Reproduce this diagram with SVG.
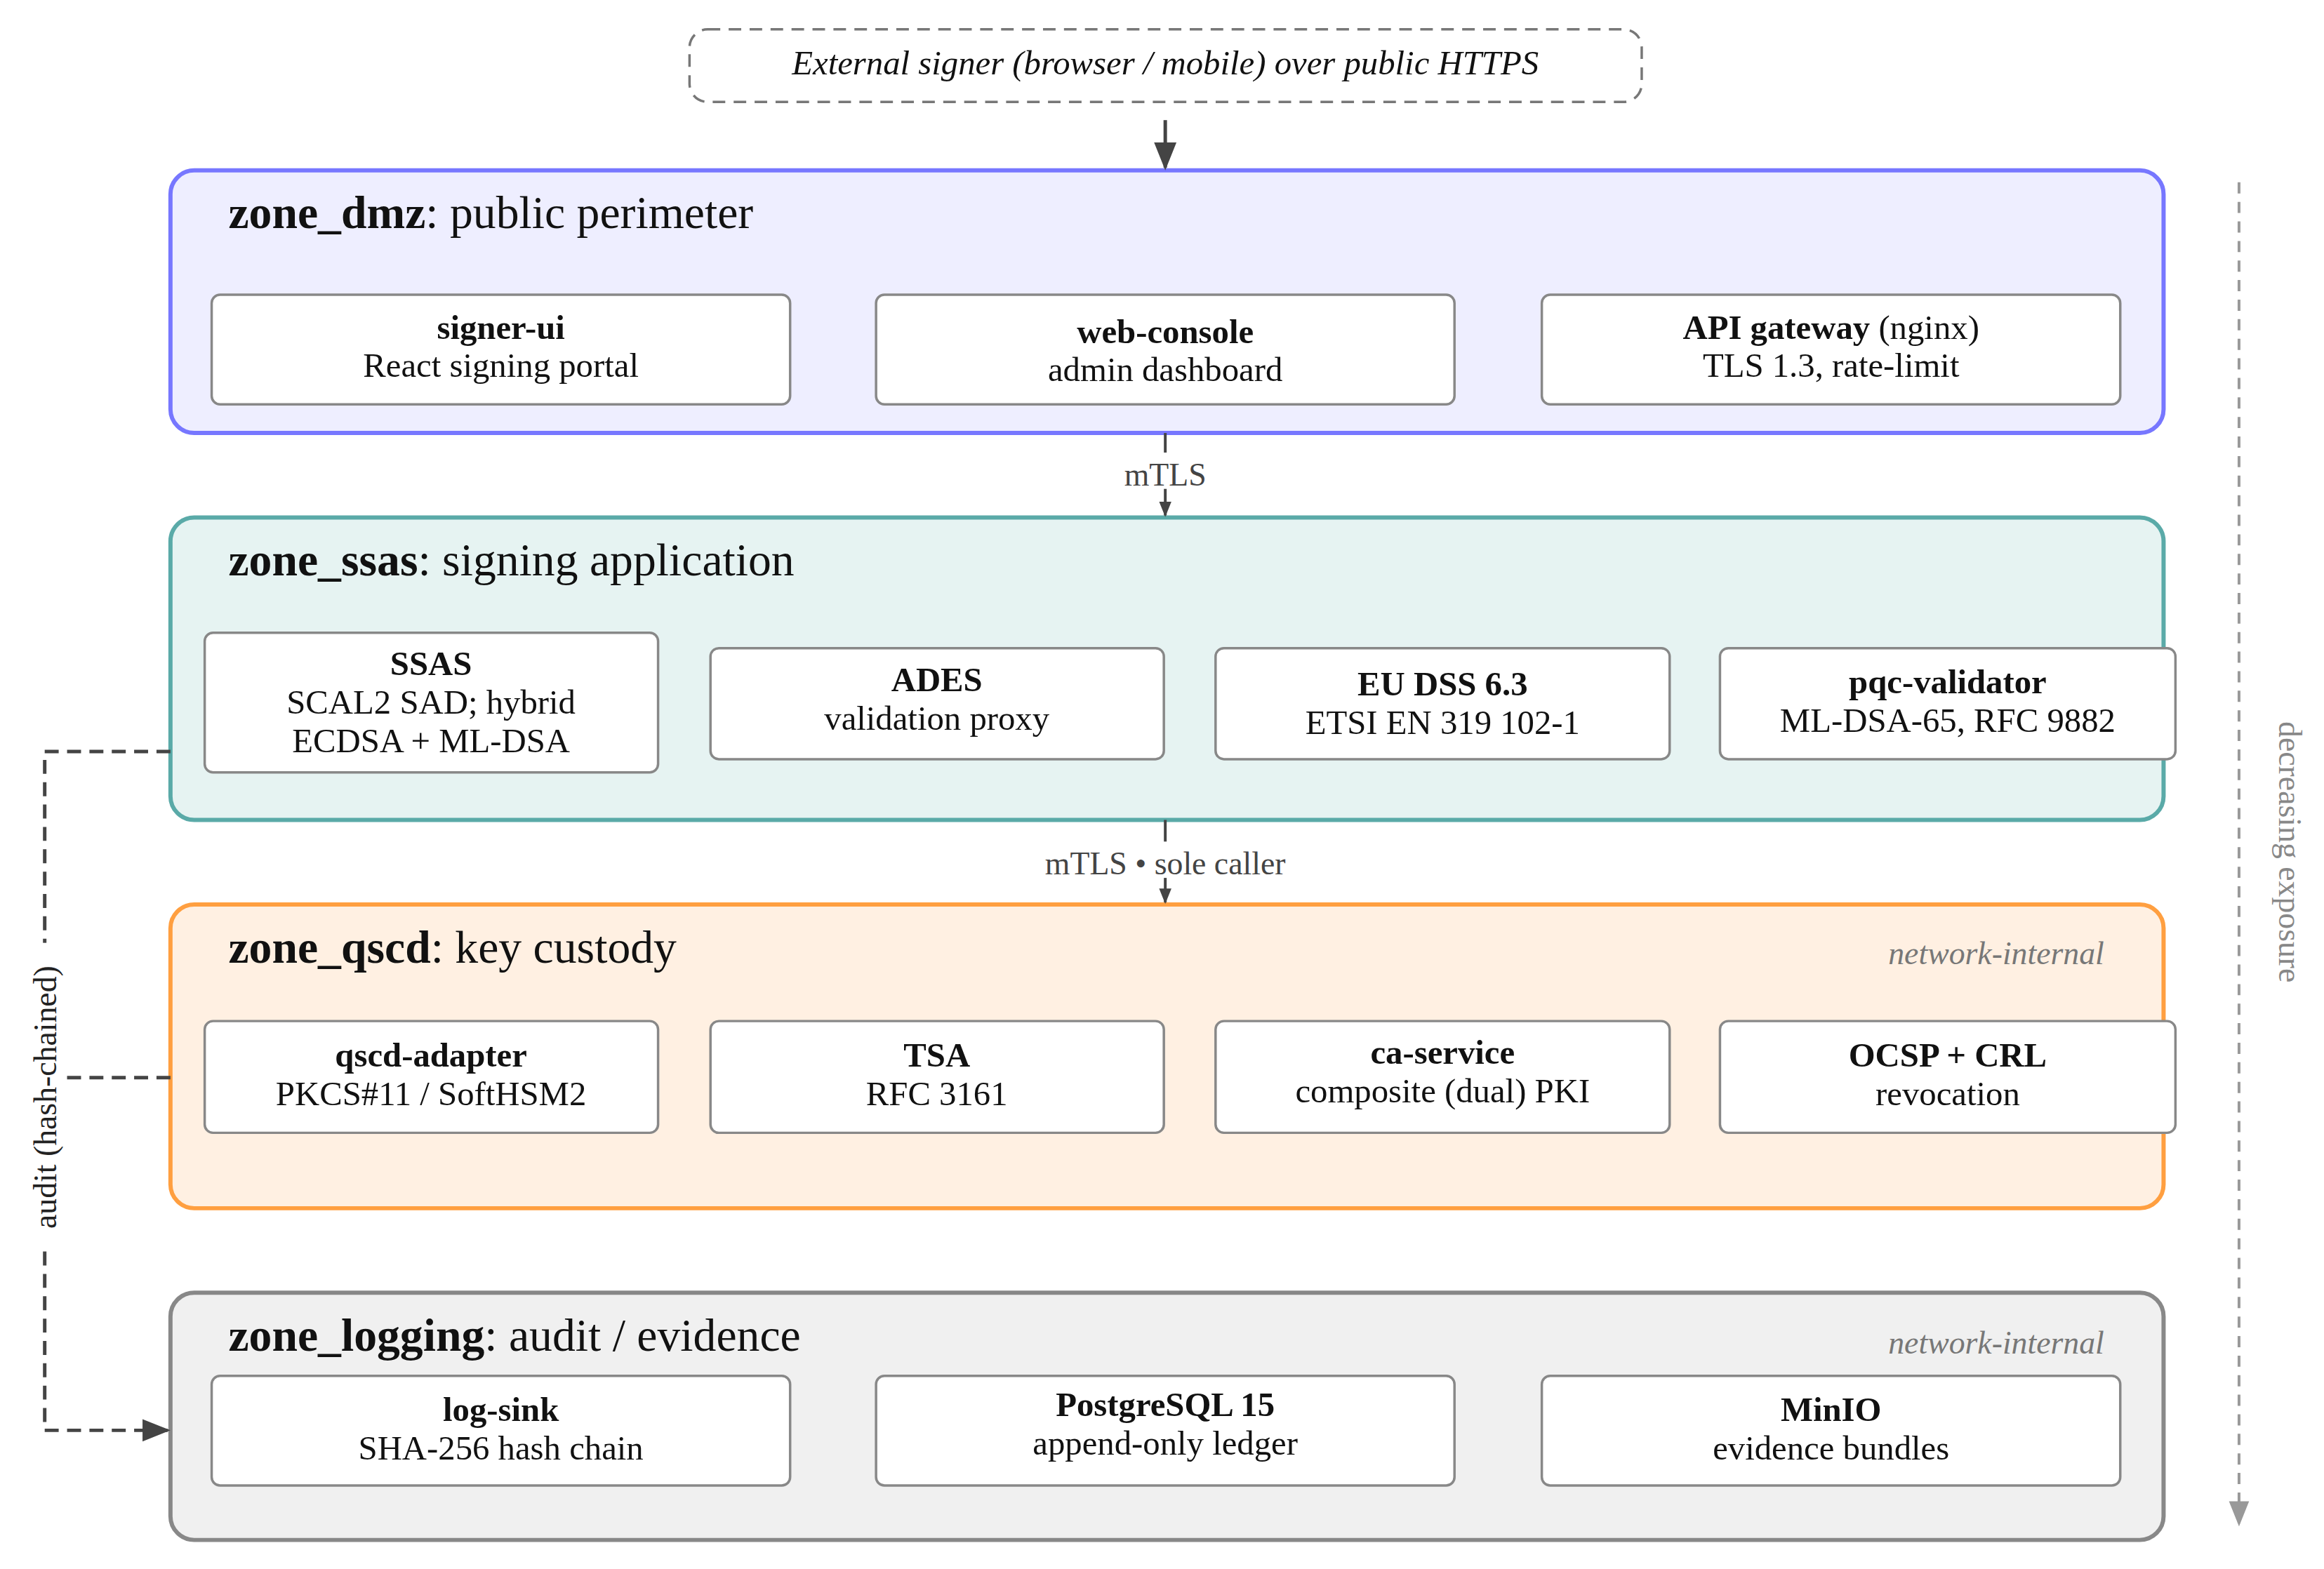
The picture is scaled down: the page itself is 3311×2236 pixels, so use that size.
<svg xmlns="http://www.w3.org/2000/svg" width="3311" height="2236" viewBox="0 0 3311 2236">
<defs>
<marker id="ahb" viewBox="0 0 10 10" refX="9" refY="5" markerWidth="40" markerHeight="40" orient="auto" markerUnits="userSpaceOnUse"><path d="M0,1 L10,5 L0,9 z" fill="#444"/></marker>
<marker id="ahg" viewBox="0 0 10 10" refX="9" refY="5" markerWidth="36" markerHeight="36" orient="auto" markerUnits="userSpaceOnUse"><path d="M0,1 L10,5 L0,9 z" fill="#999"/></marker>
<marker id="ahm" viewBox="0 0 10 10" refX="9" refY="5" markerWidth="22" markerHeight="22" orient="auto" markerUnits="userSpaceOnUse"><path d="M0,1 L10,5 L0,9 z" fill="#444"/></marker>
</defs>
<style>
text{font-family:"Liberation Serif","DejaVu Serif",serif;fill:#111}
.zt{font-size:66px}
.nt{font-size:49px;text-anchor:middle}
.b{font-weight:bold}
.node{fill:#fff;stroke:#888;stroke-width:3.5}
.ni{font-size:46px;font-style:italic;fill:#777;text-anchor:end}
.lbl{font-size:46px;fill:#444;text-anchor:middle}
</style>
<rect width="3311" height="2236" fill="#fff"/>
<g transform="scale(0.9953)">
<g id="external"><rect x="987" y="42" width="1363" height="104" rx="26" fill="#fff" stroke="#777" stroke-width="3.5" stroke-dasharray="18,12"/><text x="1668" y="106" class="nt" style="font-style:italic">External signer (browser / mobile) over public HTTPS</text></g>
<g id="zone_dmz"><rect x="244" y="244" width="2853" height="376" rx="34" fill="#eeeeff" stroke="#7777ff" stroke-width="6"/><text x="327" y="327" class="zt"><tspan class="b">zone_dmz</tspan>: public perimeter</text></g>
<g id="zone_ssas"><rect x="244" y="741" width="2853" height="433" rx="34" fill="#e6f3f2" stroke="#5aaaa8" stroke-width="6"/><text x="327" y="824" class="zt"><tspan class="b">zone_ssas</tspan>: signing application</text></g>
<g id="zone_qscd"><rect x="244" y="1295" width="2853" height="435" rx="34" fill="#fff0e2" stroke="#ff9f40" stroke-width="6"/><text x="327" y="1378" class="zt"><tspan class="b">zone_qscd</tspan>: key custody</text><text x="3012" y="1380" class="ni">network-internal</text></g>
<g id="zone_logging"><rect x="244" y="1851" width="2853" height="354" rx="34" fill="#f0f0f0" stroke="#888" stroke-width="6"/><text x="327" y="1934" class="zt"><tspan class="b">zone_logging</tspan>: audit / evidence</text><text x="3012" y="1938" class="ni">network-internal</text></g>
<g id="n_signer_ui"><rect class="node" x="303" y="422" width="828" height="157" rx="12"/><text x="717" y="485" class="nt b">signer-ui</text><text x="717" y="540" class="nt">React signing portal</text></g>
<g id="n_web_console"><rect class="node" x="1254" y="422" width="828" height="157" rx="12"/><text x="1668" y="491" class="nt b">web-console</text><text x="1668" y="546" class="nt">admin dashboard</text></g>
<g id="n_api_gateway"><rect class="node" x="2207" y="422" width="828" height="157" rx="12"/><text x="2621" y="485" class="nt"><tspan class="b">API  gateway</tspan> (nginx)</text><text x="2621" y="540" class="nt">TLS 1.3, rate-limit</text></g>
<g id="n_ssas"><rect class="node" x="293" y="906" width="649" height="200" rx="12"/><text x="617" y="967" class="nt b">SSAS</text><text x="617" y="1022" class="nt">SCAL2 SAD; hybrid</text><text x="617" y="1077" class="nt">ECDSA + ML-DSA</text></g>
<g id="n_ades"><rect class="node" x="1017" y="928" width="649" height="159" rx="12"/><text x="1341" y="990" class="nt b">ADES</text><text x="1341" y="1045" class="nt">validation proxy</text></g>
<g id="n_eudss"><rect class="node" x="1740" y="928" width="650" height="159" rx="12"/><text x="2065" y="996" class="nt b">EU  DSS  6.3</text><text x="2065" y="1051" class="nt">ETSI EN 319 102-1</text></g>
<g id="n_pqc"><rect class="node" x="2462" y="928" width="652" height="159" rx="12"/><text x="2788" y="993" class="nt b">pqc-validator</text><text x="2788" y="1048" class="nt">ML-DSA-65, RFC 9882</text></g>
<g id="n_qscd_adapter"><rect class="node" x="293" y="1462" width="649" height="160" rx="12"/><text x="617" y="1527" class="nt b">qscd-adapter</text><text x="617" y="1582" class="nt">PKCS#11 / SoftHSM2</text></g>
<g id="n_tsa"><rect class="node" x="1017" y="1462" width="649" height="160" rx="12"/><text x="1341" y="1527" class="nt b">TSA</text><text x="1341" y="1582" class="nt">RFC 3161</text></g>
<g id="n_ca"><rect class="node" x="1740" y="1462" width="650" height="160" rx="12"/><text x="2065" y="1523" class="nt b">ca-service</text><text x="2065" y="1578" class="nt">composite (dual) PKI</text></g>
<g id="n_ocsp"><rect class="node" x="2462" y="1462" width="652" height="160" rx="12"/><text x="2788" y="1527" class="nt b">OCSP  +  CRL</text><text x="2788" y="1582" class="nt">revocation</text></g>
<g id="n_logsink"><rect class="node" x="303" y="1970" width="828" height="157" rx="12"/><text x="717" y="2035" class="nt b">log-sink</text><text x="717" y="2090" class="nt">SHA-256 hash chain</text></g>
<g id="n_postgres"><rect class="node" x="1254" y="1970" width="828" height="157" rx="12"/><text x="1668" y="2028" class="nt b">PostgreSQL  15</text><text x="1668" y="2083" class="nt">append-only ledger</text></g>
<g id="n_minio"><rect class="node" x="2207" y="1970" width="828" height="157" rx="12"/><text x="2621" y="2035" class="nt b">MinIO</text><text x="2621" y="2090" class="nt">evidence bundles</text></g>
<g id="connectors" fill="none">
<line x1="1668" y1="172" x2="1668" y2="240" stroke="#444" stroke-width="5" marker-end="url(#ahb)"/>
<line x1="1668" y1="620" x2="1668" y2="738" stroke="#444" stroke-width="4" marker-end="url(#ahm)"/>
<rect x="1590" y="648" width="156" height="52" fill="#fff" stroke="none"/>
<text x="1668" y="695" class="lbl">mTLS</text>
<line x1="1668" y1="1174" x2="1668" y2="1292" stroke="#444" stroke-width="4" marker-end="url(#ahm)"/>
<rect x="1460" y="1205" width="416" height="52" fill="#fff" stroke="none"/>
<text x="1668" y="1252" class="lbl">mTLS • sole caller</text>
<polyline points="244,1076 64,1076 64,2048 240,2048" stroke="#444" stroke-width="5" stroke-dasharray="20,12" marker-end="url(#ahb)"/>
<line x1="244" y1="1543" x2="64" y2="1543" stroke="#444" stroke-width="5" stroke-dasharray="20,12"/>
<rect x="38" y="1350" width="52" height="440" fill="#fff" stroke="none"/>
<text transform="translate(80,1571) rotate(-90)" class="lbl" style="fill:#222">audit (hash-chained)</text>
<line x1="3205" y1="261" x2="3205" y2="2182" stroke="#999" stroke-width="4" stroke-dasharray="16,12" marker-end="url(#ahg)"/>
<text transform="translate(3262,1220) rotate(90)" class="lbl" style="fill:#888">decreasing exposure</text>
</g>
</g>
</svg>
